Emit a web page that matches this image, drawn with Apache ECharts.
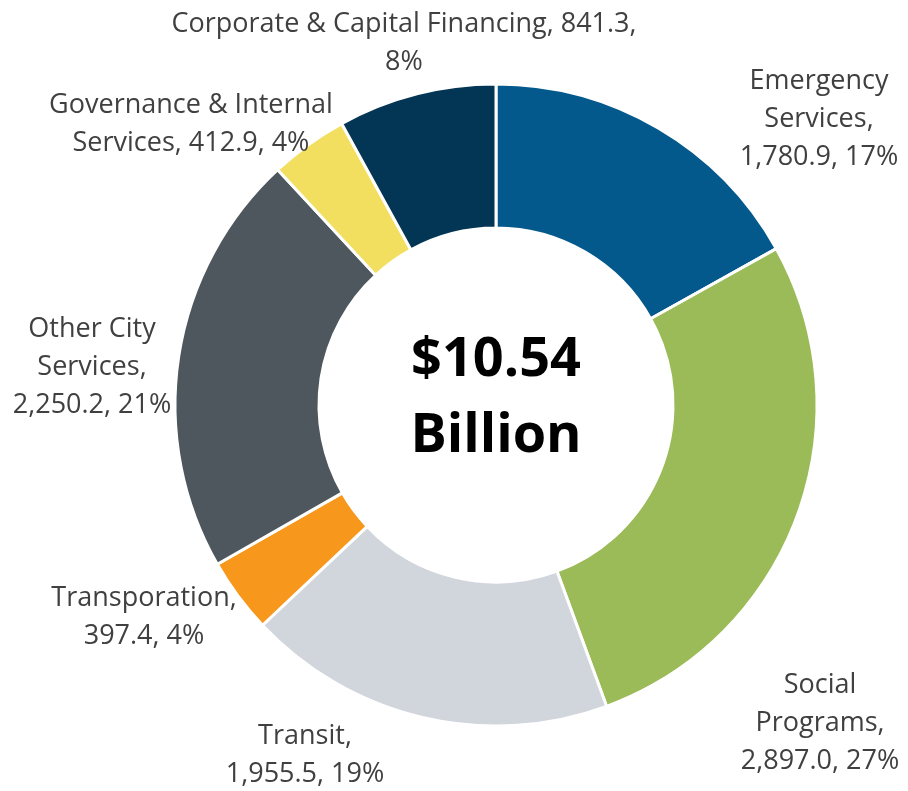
<!DOCTYPE html>
<html>
<head>
<meta charset="utf-8">
<script src="https://cdn.jsdelivr.net/npm/echarts@6/dist/echarts.min.js"></script>
<style>
	html, body { margin: 0; padding: 0; background: #fff; }
	#chart-1 { width: 908px; height: 791px; }
</style>
</head>
<body>
<div id="chart-1"></div>
<script>
// budget by program, millions
var names = ['Emergency\nServices', 'Social\nPrograms', 'Transit', 'Transporation', 'Other City\nServices', 'Governance & Internal\nServices', 'Corporate & Capital Financing'];
var values = [1780.9, 2897.0, 1955.5, 397.4, 2250.2, 412.9, 841.3];
var totalText = ['$10.54', 'Billion'];

// separators: name -> value, value -> percent
var sepName = ['\n', '\n', '\n', '\n', '\n', ' ', ' '];
var sepValue = [' ', ' ', ' ', ' ', ' ', ' ', '\n'];

var colors = ['#03588c', '#9bbb59', '#d1d5dc', '#f7981d', '#4d575d', '#f3df5f', '#033555'];
// label block centres (px)
var labelPos = [[819, 119], [820, 723], [305, 755], [144, 617], [92, 367], [191, 124], [404, 43]];

(function(){
	var myChart = echarts.init(document.getElementById('chart-1'));

	var data = names.map(function(n, i) {
		return { name: n, value: values[i] };
	});

	var option = {
		animation: false,
		color: colors,
		graphic: [{
			type: 'text',
			x: 496,
			y: 399,
			style: {
				text: totalText.join('\n'),
				fontFamily: 'Open Sans',
				fontWeight: 'bold',
				fontSize: 54,
				lineHeight: 76,
				fill: '#000',
				textAlign: 'center',
				textVerticalAlign: 'middle'
			}
		}],
		series: [{
			type: 'pie',
			center: [496, 405],
			radius: [177, 321],
			startAngle: 90,
			clockwise: true,
			itemStyle: {
				borderColor: '#fff',
				borderWidth: 3
			},
			label: {
				show: true,
				position: 'outside',
				fontFamily: 'Open Sans',
				fontSize: 27,
				lineHeight: 38,
				color: '#404040',
				align: 'center',
				overflow: 'none',
				formatter: function(p) {
					var i = p.dataIndex;
					var v = p.value.toLocaleString('en-US', { minimumFractionDigits: 1, maximumFractionDigits: 1 });
					return p.name + ',' + sepName[i] + v + ',' + sepValue[i] + p.percent + '%';
				}
			},
			percentPrecision: 0,
			labelLine: { show: false },
			labelLayout: function(p) {
				var pos = labelPos[p.dataIndex];
				return {
					x: pos[0],
					y: pos[1],
					align: 'center',
					verticalAlign: 'middle'
				};
			},
			emphasis: { disabled: true },
			data: data
		}]
	};

	myChart.setOption(option);
})();
</script>
</body>
</html>
